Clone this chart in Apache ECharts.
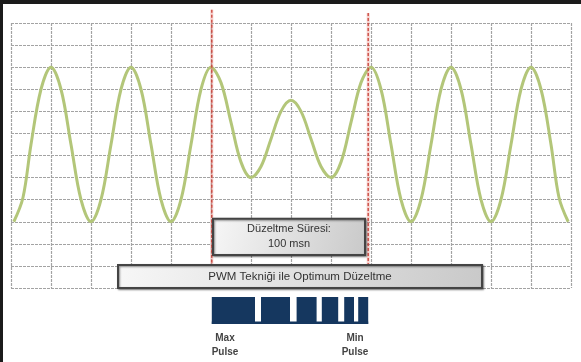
<!DOCTYPE html>
<html>
<head>
<meta charset="utf-8">
<script src="https://cdn.jsdelivr.net/npm/echarts@6/dist/echarts.min.js"></script>
<style>
html,body{margin:0;padding:0;background:#ffffff;}
#c{width:581px;height:362px;}
</style>
</head>
<body>
<div id="c"></div>
<script>
// Wave samples: x in grid columns, y in grid rows (0 = bottom)
var waveX = [0.07, 0.3, 0.5, 0.75, 1, 1.25, 1.5, 1.75, 2, 2.25, 2.5, 2.75, 3, 3.25, 3.5, 3.75, 4, 4.25, 4.5, 4.75,
  5, 5.25, 5.5, 5.75, 6, 6.25, 6.5, 6.75, 7, 7.25, 7.5, 7.75, 8, 8.25, 8.5, 8.75,
  9, 9.25, 9.5, 9.75, 10, 10.25, 10.5, 10.75, 11, 11.25, 11.5, 11.75, 12, 12.25, 12.5, 12.75, 13, 13.25, 13.5, 13.7, 13.93];
var waveY = [3, 4.1, 6.5, 9.0, 10, 9.0, 6.5, 4.0, 3, 4.0, 6.5, 9.0, 10, 9.0, 6.5, 4.0, 3, 4.0, 6.5, 9.0,
  10, 9.3, 7.5, 5.7, 5, 5.5, 6.75, 8.0, 8.5, 8.0, 6.75, 5.5, 5, 5.7, 7.5, 9.3,
  10, 9.0, 6.5, 4.0, 3, 4.0, 6.5, 9.0, 10, 9.0, 6.5, 4.0, 3, 4.0, 6.5, 9.0, 10, 9.0, 6.5, 4.1, 3];
// Correction window markers: x, bottom, top (grid units)
var markerX = [5.02, 8.93];
var markerBottom = [1.05, 1.05];
var markerTop = [12.6, 12.45];
// PWM pulses (start / end in columns)
var pulseStart = [5.02, 6.25, 7.14, 7.77, 8.33, 8.68];
var pulseEnd = [6.10, 6.975, 7.64, 8.18, 8.575, 8.93];
// Texts
var boxText1 = 'Düzeltme Süresi:\n100 msn';
var boxText2 = 'PWM Tekniği ile Optimum Düzeltme';
var labelMax = 'Max\nPulse';
var labelMin = 'Min\nPulse';

var waveData = waveX.map(function (x, i) { return [x, waveY[i]]; });
var pulseData = pulseStart.map(function (s, i) { return [s, pulseEnd[i]]; });
var markerData = markerX.map(function (x, i) { return [x, markerBottom[i], markerTop[i]]; });

var chart = echarts.init(document.getElementById('c'), null, {renderer: 'canvas'});
var gridLine = {show: true, lineStyle: {color: '#a3a3a3', type: [3, 1], width: 1.2}};
function boxGrad() {
  return new echarts.graphic.LinearGradient(0, 0, 1, 1, [
    {offset: 0, color: '#f7f7f7'}, {offset: 1, color: '#c9c9c9'}
  ]);
}
var textFont = 'Liberation Sans';

function pulseRender(params, api) {
  var p1 = api.coord([api.value(0), 1]);
  var p2 = api.coord([api.value(1), 0]);
  return {type: 'rect', shape: {x: p1[0], y: p1[1], width: p2[0] - p1[0], height: p2[1] - p1[1]},
    style: {fill: '#15375f'}};
}
function baseRender(params, api) {
  var p1 = api.coord([api.value(0), 0.09]);
  var p2 = api.coord([api.value(1), 0]);
  return {type: 'rect', shape: {x: p1[0], y: p1[1], width: p2[0] - p1[0], height: p2[1] - p1[1]},
    style: {fill: '#15375f'}};
}
function markerRender(params, api) {
  var a = api.coord([api.value(0), api.value(2)]);
  var b = api.coord([api.value(0), api.value(1)]);
  return {type: 'group', children: [
    {type: 'line', shape: {x1: a[0], y1: a[1], x2: b[0], y2: b[1]},
      style: {stroke: 'rgba(230,120,110,0.35)', lineWidth: 3}},
    {type: 'line', shape: {x1: a[0], y1: a[1], x2: b[0], y2: b[1]},
      style: {stroke: '#c9433a', lineWidth: 1.3, lineDash: [3, 2]}}
  ]};
}

chart.setOption({
  animation: false,
  backgroundColor: '#ffffff',
  grid: [
    {left: 11, top: 23, width: 560, height: 265},
    {left: 11, top: 297, width: 560, height: 27}
  ],
  xAxis: [
    {gridIndex: 0, type: 'value', min: 0, max: 14, interval: 1,
      axisLine: {show: false}, axisTick: {show: false}, axisLabel: {show: false}, splitLine: gridLine},
    {gridIndex: 1, type: 'value', min: 0, max: 14, show: false}
  ],
  yAxis: [
    {gridIndex: 0, type: 'value', min: 0, max: 12, interval: 1,
      axisLine: {show: false}, axisTick: {show: false}, axisLabel: {show: false}, splitLine: gridLine},
    {gridIndex: 1, type: 'value', min: 0, max: 1, show: false}
  ],
  series: [
    {
      type: 'line', xAxisIndex: 0, yAxisIndex: 0, data: waveData, smooth: 0.35, z: 2,
      showSymbol: false, clip: false,
      lineStyle: {color: '#b3c679', width: 3},
      markArea: {
        z: 6, silent: true,
        data: [
          [{coord: [markerX[0] + 0.03, 3.14], name: boxText1,
            itemStyle: {color: boxGrad(), borderColor: '#444', borderWidth: 2,
              shadowColor: 'rgba(0,0,0,0.45)', shadowBlur: 2, shadowOffsetX: 1, shadowOffsetY: 1},
            label: {show: true, position: 'inside', color: '#333', fontFamily: textFont, fontSize: 11, lineHeight: 15}},
           {coord: [markerX[1] - 0.08, 1.5]}],
          [{coord: [2.675, 1.045], name: boxText2,
            itemStyle: {color: boxGrad(), borderColor: '#444', borderWidth: 2,
              shadowColor: 'rgba(0,0,0,0.45)', shadowBlur: 2, shadowOffsetX: 1, shadowOffsetY: 1},
            label: {show: true, position: 'inside', color: '#333', fontFamily: textFont, fontSize: 11.5}},
           {coord: [11.775, 0]}]
        ]
      }
    },
    {type: 'custom', xAxisIndex: 0, yAxisIndex: 0, z: 3, renderItem: markerRender, data: markerData, encode: {x: 0, y: [1, 2]}, clip: false, silent: true},
    {type: 'custom', xAxisIndex: 1, yAxisIndex: 1, renderItem: pulseRender, data: pulseData, encode: {x: [0, 1]}, clip: false},
    {type: 'custom', xAxisIndex: 1, yAxisIndex: 1, renderItem: baseRender, data: [[pulseStart[0], pulseEnd[pulseEnd.length - 1]]], encode: {x: [0, 1]}, clip: false}
  ],
  graphic: [
    {type: 'rect', left: 0, top: 0, shape: {width: 581, height: 4}, style: {fill: '#1b1b1b'}, z: 100},
    {type: 'rect', left: 0, top: 0, shape: {width: 3, height: 362}, style: {fill: '#1b1b1b'}, z: 100},
    {type: 'text', x: 225, y: 331, style: {text: labelMax, fill: '#444', font: 'bold 10px "Liberation Sans"', textAlign: 'center', lineHeight: 14}},
    {type: 'text', x: 355, y: 331, style: {text: labelMin, fill: '#444', font: 'bold 10px "Liberation Sans"', textAlign: 'center', lineHeight: 14}}
  ]
});
</script>
</body>
</html>
